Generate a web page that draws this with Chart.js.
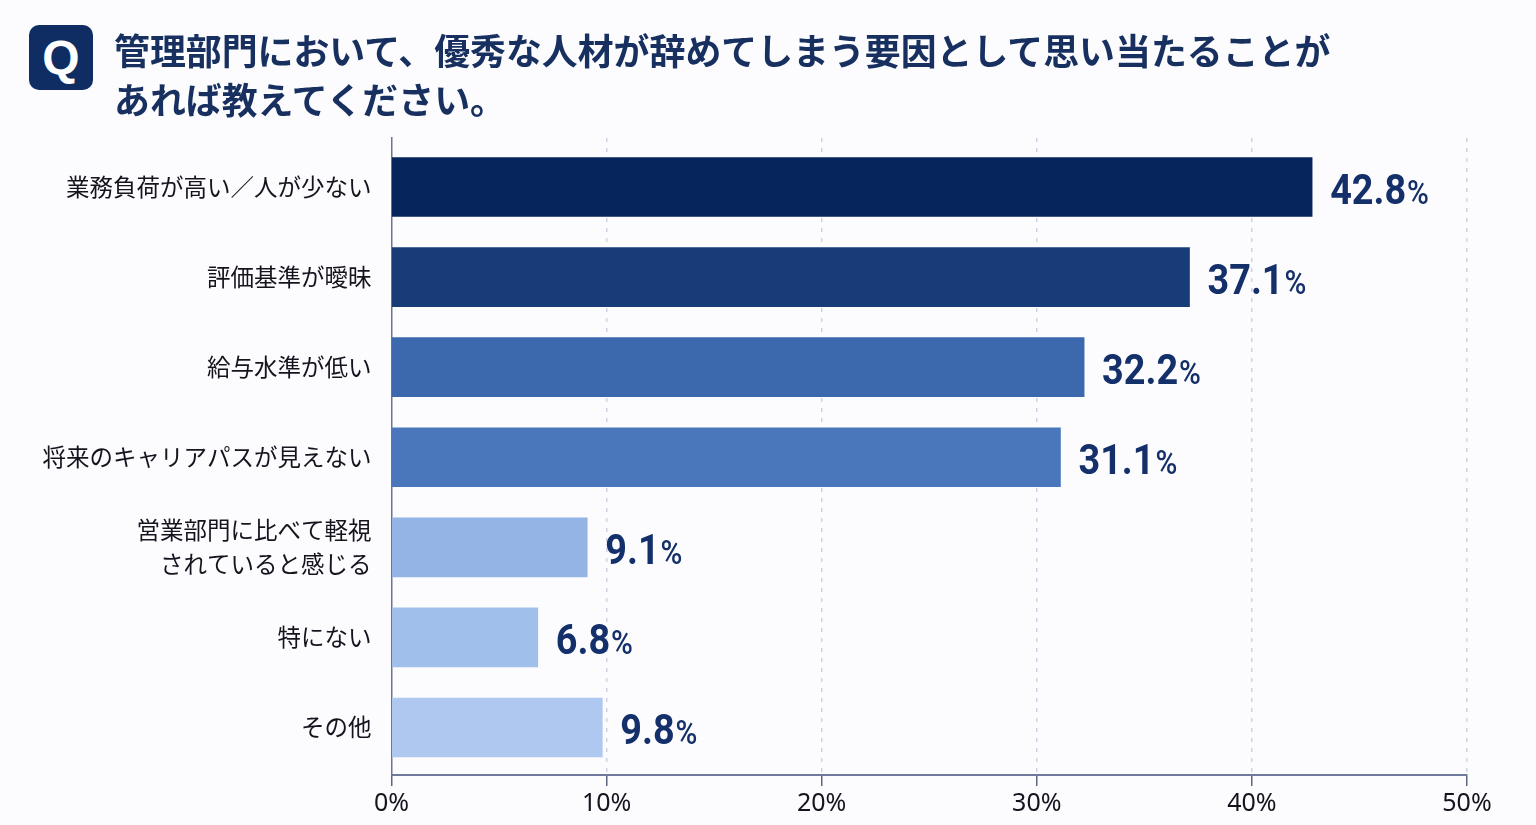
<!DOCTYPE html>
<html lang="ja">
<head>
<meta charset="utf-8">
<title>優秀な人材が辞めてしまう要因</title>
<script src="https://cdn.jsdelivr.net/npm/chart.js@4"></script>
<style>
  html, body { margin: 0; padding: 0; background: #fcfcfe; overflow: hidden; }
  #stage { position: relative; width: 1536px; height: 825px; }
  #chart { position: absolute; left: 0; top: 0; }
  #badge {
    position: absolute; left: 29px; top: 25px; width: 64px; height: 65px;
    border-radius: 10px; background: #0f2d63; color: #fff;
    font: 700 48px/65px "Liberation Sans", sans-serif; text-align: center;
  }
  #question {
    position: absolute; left: 114px; top: 25px; margin: 0; width: 1300px;
    font: 700 35.9px/49px "Noto Sans CJK JP", sans-serif; color: #17305f;
  }
</style>
</head>
<body>
<div id="stage">
  <canvas id="chart" width="1536" height="825"></canvas>
  <div id="badge">Q</div>
  <h1 id="question">管理部門において、優秀な人材が辞めてしまう要因として思い当たることが<br>あれば教えてください。</h1>
</div>
<script>
// Survey answers, top to bottom
const categories = [
  "業務負荷が高い／人が少ない",
  "評価基準が曖昧",
  "給与水準が低い",
  "将来のキャリアパスが見えない",
  ["営業部門に比べて軽視", "されていると感じる"],
  "特にない",
  "その他"
];
const shares = [42.8, 37.1, 32.2, 31.1, 9.1, 6.8, 9.8];
const barColors = ["#05255c", "#183c78", "#3c68ae", "#4a76bc", "#93b4e5", "#a0bfea", "#aec8ef"];
const axisTicks = [0, 10, 20, 30, 40, 50];

// Writes "42.8" large and "%" small just past the end of each bar
const valueLabels = {
  id: "valueLabels",
  afterDatasetsDraw(chart) {
    const { ctx } = chart;
    const squeeze = 0.9;
    chart.getDatasetMeta(0).data.forEach((bar, i) => {
      const number = shares[i].toFixed(1);
      ctx.save();
      ctx.translate(bar.x + 18, bar.y + 16.5);
      ctx.scale(squeeze, 1);
      ctx.fillStyle = "#14306a";
      ctx.textAlign = "left";
      ctx.textBaseline = "alphabetic";
      ctx.font = '700 42px "Roboto", sans-serif';
      ctx.fillText(number, 0, 0);
      const width = ctx.measureText(number).width;
      ctx.font = '500 33px "Roboto", sans-serif';
      ctx.fillText("%", width + 1, 0);
      ctx.restore();
    });
  }
};

new Chart(document.getElementById("chart"), {
  type: "bar",
  data: {
    datasets: [{
      data: shares.map((x, y) => ({ x, y })),
      backgroundColor: barColors,
      barThickness: 59
    }]
  },
  plugins: [valueLabels],
  options: {
    indexAxis: "y",
    responsive: false,
    animation: false,
    layout: { padding: { top: 138, right: 69, left: 0, bottom: 0 } },
    plugins: { legend: { display: false }, title: { display: false }, tooltip: { enabled: false } },
    scales: {
      x: {
        type: "linear",
        min: axisTicks[0],
        max: axisTicks[axisTicks.length - 1],
        afterBuildTicks: (scale) => { scale.ticks = axisTicks.map((value) => ({ value })); },
        afterFit: (scale) => { scale.height = 50; },
        border: { display: true, color: "#6f7a9c", width: 2, dash: [4, 6] },
        grid: {
          display: true,
          color: (c) => (c.tick && c.tick.value === 0 ? "rgba(0,0,0,0)" : "#cdd3e4"),
          lineWidth: 1.5,
          drawTicks: true,
          tickLength: 11,
          tickColor: "#5d6680",
          tickWidth: 1.5,
          tickBorderDash: []
        },
        ticks: {
          padding: 3,
          maxRotation: 0,
          color: "#14141e",
          font: { family: '"Noto Sans", sans-serif', size: 25 },
          callback: (v) => v + "%"
        }
      },
      y: {
        type: "linear",
        reverse: true,
        offset: false,
        min: -0.544,
        max: 6.527,
        afterBuildTicks: (scale) => { scale.ticks = categories.map((_, value) => ({ value })); },
        afterFit: (scale) => { scale.width = 391.5; },
        border: { display: true, color: "#6b7590", width: 1.5 },
        grid: { display: false, drawTicks: false },
        ticks: {
          autoSkip: false,
          padding: 20,
          color: "#14141e",
          font: { family: '"Noto Sans CJK JP", sans-serif', size: 23.5, lineHeight: 1.45 },
          callback: (v) => categories[v]
        }
      }
    }
  }
});
</script>
</body>
</html>
